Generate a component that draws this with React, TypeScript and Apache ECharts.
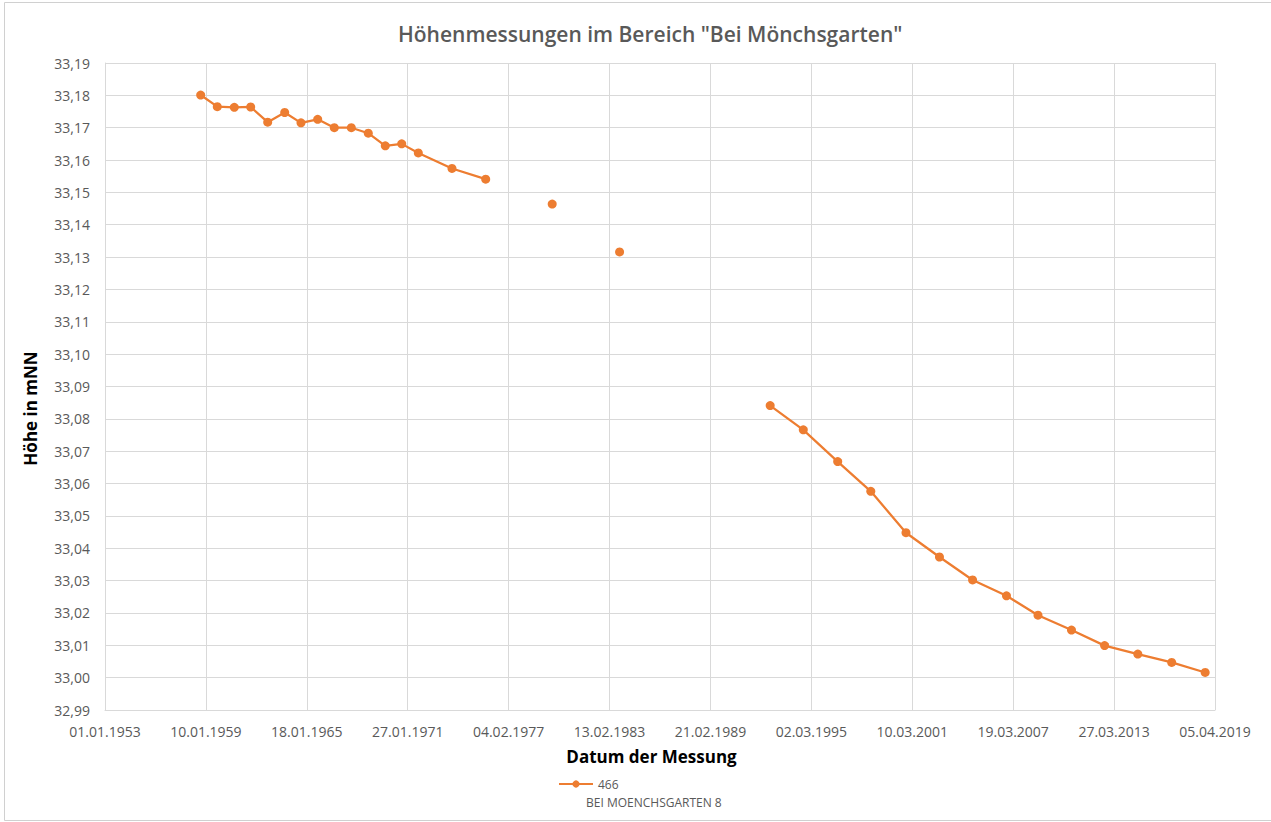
import React, { useEffect, useRef } from "react";
import * as echarts from "echarts";

// Measurement dates (estimated) and heights in m NN; null = no measurement (line gap)
const measurementDates: string[] = [
  "1958-09-18", "1959-09-15", "1960-09-20", "1961-09-12", "1962-09-18",
  "1963-09-24", "1964-09-13", "1965-09-12", "1966-09-09", "1967-09-15",
  "1968-09-19", "1969-09-25", "1970-09-18", "1971-09-15", "1973-09-18",
  "1975-09-23", "1977-09-15", "1979-09-12", "1981-09-15", "1983-09-20",
  "1988-09-15", "1992-09-15", "1994-09-07", "1996-09-26", "1998-09-18",
  "2000-10-24", "2002-10-24", "2004-10-15", "2006-10-24", "2008-09-10",
  "2010-09-10", "2012-09-01", "2014-08-26", "2016-09-03", "2018-09-03",
];
const heights: (number | null)[] = [
  33.1801, 33.1765, 33.1763, 33.1764, 33.1717,
  33.1747, 33.1715, 33.1726, 33.1700, 33.1700,
  33.1683, 33.1644, 33.1650, 33.1622, 33.1574,
  33.1541, null, 33.1464, null, 33.1316,
  null, 33.0841, 33.0766, 33.0668, 33.0576,
  33.0448, 33.0373, 33.0302, 33.0253, 33.0193,
  33.0147, 33.0099, 33.0073, 33.0047, 33.0016,
];

const seriesName = "466";
const seriesSubName = "BEI MOENCHSGARTEN 8";
const chartTitle = 'Höhenmessungen im Bereich "Bei Mönchsgarten"';
const xAxisTitle = "Datum der Messung";
const yAxisTitle = "Höhe in mNN";

// x axis: days since 01.01.1953, ticks every 2200 days (Excel date axis)
const axisStart = "1953-01-01";
const axisEndDays = 24200;
const tickDays = 2200;
const yMin = 32.99;
const yMax = 33.19;
const yStep = 0.01;

const DAY_MS = 86400000;
function toUTC(s: string): number {
  const [y, m, d] = s.split("-").map(Number);
  return Date.UTC(y, m - 1, d);
}
const BASE = toUTC(axisStart);
function dayOffset(s: string): number {
  return Math.round((toUTC(s) - BASE) / DAY_MS);
}
function fmtDate(days: number): string {
  const d = new Date(BASE + Math.round(days) * DAY_MS);
  const dd = String(d.getUTCDate()).padStart(2, "0");
  const mm = String(d.getUTCMonth() + 1).padStart(2, "0");
  return `${dd}.${mm}.${d.getUTCFullYear()}`;
}

const FONT = "'Open Sans', 'Noto Sans', sans-serif";
const ORANGE = "#ED7D31";
const GRID = "#d9d9d9";
const LABEL = "#595959";

export default function App() {
  const ref = useRef<HTMLDivElement>(null);
  useEffect(() => {
    if (!ref.current) return;
    const chart = echarts.init(ref.current, undefined, { renderer: "svg" });
    const data = measurementDates.map((d, i) => [
      dayOffset(d),
      heights[i] === null ? "-" : heights[i],
    ]);
    chart.setOption({
      animation: false,
      backgroundColor: "#ffffff",
      textStyle: { fontFamily: FONT },
      title: {
        text: chartTitle,
        left: 398,
        top: 23,
        padding: 0,
        textStyle: {
          fontFamily: FONT,
          fontSize: 21,
          fontWeight: 600,
          color: LABEL,
        },
      },
      grid: { left: 105, right: 56, top: 63, bottom: 112 },
      xAxis: {
        type: "value",
        min: 0,
        max: axisEndDays,
        interval: tickDays,
        name: xAxisTitle,
        nameLocation: "middle",
        nameGap: 38,
        nameTextStyle: {
          fontFamily: FONT,
          fontSize: 17,
          fontWeight: "bold",
          color: "#000000",
          padding: [0, 17, 0, 0],
        },
        axisLine: { show: true, lineStyle: { color: GRID, width: 1 } },
        axisTick: { show: false },
        splitLine: { show: true, lineStyle: { color: GRID, width: 1 } },
        axisLabel: {
          formatter: (v: number) => fmtDate(v),
          fontFamily: FONT,
          fontSize: 14,
          color: LABEL,
          margin: 14,
          showMinLabel: true,
          showMaxLabel: true,
        },
      },
      yAxis: {
        type: "value",
        min: yMin,
        max: yMax,
        interval: yStep,
        name: yAxisTitle,
        nameLocation: "middle",
        nameRotate: 90,
        nameGap: 66,
        nameTextStyle: {
          fontFamily: FONT,
          fontSize: 17,
          fontWeight: "bold",
          color: "#000000",
          padding: [0, 44, 0, 0],
        },
        axisLine: { show: true, lineStyle: { color: GRID, width: 1 } },
        axisTick: { show: false },
        splitLine: { show: true, lineStyle: { color: GRID, width: 1 } },
        axisLabel: {
          formatter: (v: number) => v.toFixed(2).replace(".", ","),
          fontFamily: FONT,
          fontSize: 14,
          color: LABEL,
          margin: 15,
        },
      },
      legend: {
        left: 558,
        top: 778,
        padding: 0,
        itemWidth: 34,
        itemHeight: 9,
        itemGap: 10,
        data: [seriesName],
        textStyle: { fontFamily: FONT, fontSize: 12, color: LABEL, padding: [0, 0, 0, 0] },
      },
      graphic: [
        {
          type: "rect",
          silent: true,
          shape: { x: 4.5, y: 2.5, width: 1290, height: 818 },
          style: { fill: "none", stroke: "#d0d0d0", lineWidth: 1 },
          z: -10,
        },
        {
          type: "text",
          left: 586,
          top: 796,
          style: {
            text: seriesSubName,
            font: `12px ${FONT}`,
            fill: LABEL,
          },
        },
      ],
      series: [
        {
          name: seriesName,
          type: "line",
          data,
          connectNulls: false,
          showSymbol: true,
          symbol: "circle",
          symbolSize: 9,
          itemStyle: { color: ORANGE },
          lineStyle: { color: ORANGE, width: 2.25 },
        },
      ],
    });
    return () => chart.dispose();
  }, []);
  return (
    <div
      ref={ref}
      style={{ position: "fixed", left: 0, top: 0, width: 1271, height: 822, background: "#fff" }}
    />
  );
}
